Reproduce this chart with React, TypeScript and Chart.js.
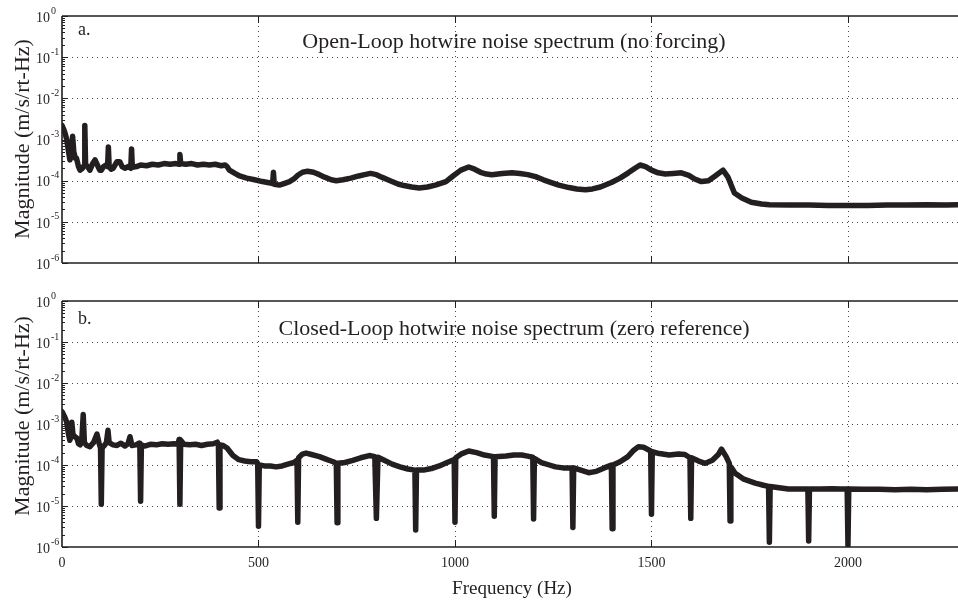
import React, { useEffect, useRef } from 'react';
import { Chart, registerables } from 'chart.js';

Chart.register(...registerables);

const FONT = '"Liberation Serif", "Times New Roman", Times, serif';
const INK = '#231f20';

const xTickValues = [0, 500, 1000, 1500, 2000];
const xTickLabels = ['0', '500', '1000', '1500', '2000'];
const yDecadeExponents = [0, -1, -2, -3, -4, -5, -6];
const yAxisTitle = 'Magnitude (m/s/rt-Hz)';
const xAxisTitle = 'Frequency (Hz)';
const panelLabels = ['a.', 'b.'];
const panelTitles = [
  'Open-Loop hotwire noise spectrum (no forcing)',
  'Closed-Loop hotwire noise spectrum (zero reference)',
];

// [frequency Hz, magnitude m/s/rt-Hz]
const openLoop: number[][] = [
  [0, 2.2e-3], [4, 1.8e-3], [8, 1.4e-3], [12, 1.0e-3], [16, 5.5e-4], [20, 3.2e-4],
  [24, 4.0e-4], [27, 1.2e-3], [30, 5.0e-4], [34, 3.5e-4], [37, 3.5e-4], [42, 2.2e-4],
  [46, 1.8e-4], [52, 2.0e-4], [56, 2.3e-4], [58, 2.2e-3], [60, 2.5e-4], [65, 2.2e-4],
  [71, 1.8e-4], [78, 2.6e-4], [84, 3.2e-4], [90, 2.4e-4], [96, 1.8e-4], [100, 1.8e-4],
  [106, 2.2e-4], [112, 2.4e-4], [116, 2.2e-4], [118, 6.6e-4], [120, 2.2e-4], [125, 1.9e-4],
  [130, 2.0e-4], [140, 2.9e-4], [147, 2.9e-4], [153, 2.2e-4], [160, 2.0e-4], [168, 2.2e-4],
  [175, 2.0e-4], [177, 5.9e-4], [179, 2.1e-4], [190, 2.2e-4], [200, 2.4e-4], [215, 2.3e-4],
  [230, 2.5e-4], [245, 2.4e-4], [260, 2.6e-4], [275, 2.5e-4], [290, 2.6e-4], [298, 2.5e-4],
  [300, 4.3e-4], [302, 2.6e-4], [315, 2.5e-4], [330, 2.6e-4], [345, 2.4e-4], [360, 2.5e-4],
  [375, 2.4e-4], [390, 2.5e-4], [405, 2.3e-4], [415, 2.4e-4], [420, 2.2e-4], [426, 1.8e-4],
  [440, 1.5e-4], [452, 1.3e-4], [470, 1.15e-4], [490, 1.05e-4], [510, 9.5e-5], [530, 8.8e-5],
  [536, 8.5e-5], [538, 1.6e-4], [540, 8.2e-5], [553, 7.8e-5], [565, 8.5e-5], [579, 9.5e-5],
  [590, 1.1e-4], [600, 1.35e-4], [612, 1.6e-4], [625, 1.7e-4], [640, 1.6e-4], [655, 1.4e-4],
  [670, 1.2e-4], [685, 1.05e-4], [698, 1.0e-4], [715, 1.05e-4], [735, 1.15e-4], [755, 1.3e-4],
  [770, 1.4e-4], [785, 1.5e-4], [800, 1.4e-4], [815, 1.2e-4], [835, 1.0e-4], [855, 8.3e-5],
  [870, 7.6e-5], [890, 7.0e-5], [909, 6.6e-5], [930, 7.0e-5], [950, 7.8e-5], [977, 9.5e-5],
  [995, 1.3e-4], [1015, 1.8e-4], [1035, 2.15e-4], [1050, 1.9e-4], [1065, 1.6e-4], [1080, 1.45e-4],
  [1094, 1.4e-4], [1120, 1.5e-4], [1145, 1.55e-4], [1165, 1.5e-4], [1185, 1.4e-4], [1205, 1.25e-4],
  [1225, 1.05e-4], [1245, 9.0e-5], [1264, 7.8e-5], [1290, 6.8e-5], [1310, 6.3e-5], [1332, 6.0e-5],
  [1350, 6.3e-5], [1370, 7.0e-5], [1398, 9.0e-5], [1420, 1.15e-4], [1441, 1.55e-4], [1458, 2.0e-4],
  [1471, 2.4e-4], [1485, 2.2e-4], [1500, 1.8e-4], [1517, 1.55e-4], [1535, 1.45e-4], [1555, 1.5e-4],
  [1576, 1.55e-4], [1595, 1.35e-4], [1610, 1.1e-4], [1627, 9.5e-5], [1645, 1.0e-4], [1662, 1.3e-4],
  [1682, 1.8e-4], [1695, 1.2e-4], [1711, 5.0e-5], [1730, 3.8e-5], [1754, 3.0e-5], [1780, 2.7e-5],
  [1800, 2.6e-5], [1850, 2.55e-5], [1900, 2.55e-5], [1950, 2.5e-5], [2000, 2.5e-5], [2050, 2.5e-5],
  [2100, 2.55e-5], [2150, 2.55e-5], [2200, 2.6e-5], [2250, 2.55e-5], [2280, 2.6e-5],
];

const closedLoop: number[][] = [
  [0, 2.0e-3], [4, 1.7e-3], [8, 1.4e-3], [12, 1.1e-3], [16, 6.0e-4], [20, 4.0e-4],
  [23, 5.0e-4], [25, 1.1e-3], [28, 5.5e-4], [33, 4.9e-4], [38, 4.5e-4], [42, 3.3e-4],
  [46, 3.1e-4], [50, 3.5e-4], [54, 1.7e-3], [57, 3.5e-4], [63, 3.0e-4], [71, 2.8e-4],
  [80, 3.5e-4], [89, 5.7e-4], [94, 3.5e-4], [98, 2.6e-4], [100, 1.1e-5], [102, 2.6e-4],
  [108, 3.0e-4], [113, 3.5e-4], [117, 7.0e-4], [120, 3.5e-4], [130, 3.1e-4], [140, 3.0e-4],
  [150, 3.4e-4], [160, 2.9e-4], [168, 3.3e-4], [173, 4.9e-4], [178, 3.0e-4], [188, 3.1e-4],
  [196, 3.4e-4], [198, 3.2e-4], [200, 1.3e-5], [202, 3.1e-4], [210, 2.9e-4], [225, 3.2e-4],
  [240, 3.1e-4], [255, 3.3e-4], [270, 3.2e-4], [285, 3.3e-4], [295, 3.2e-4], [298, 4.2e-4],
  [300, 1.1e-5], [302, 4.0e-4], [310, 3.2e-4], [325, 3.1e-4], [340, 3.2e-4], [355, 3.0e-4],
  [370, 3.2e-4], [385, 3.3e-4], [395, 3.6e-4], [398, 3.2e-4], [400, 9.0e-6], [402, 3.1e-4],
  [410, 3.0e-4], [420, 2.6e-4], [435, 1.7e-4], [450, 1.35e-4], [465, 1.25e-4], [480, 1.2e-4],
  [495, 1.2e-4], [498, 1.1e-4], [500, 3.2e-6], [502, 1.0e-4], [515, 9.5e-5], [530, 9.5e-5],
  [545, 9.0e-5], [560, 9.5e-5], [575, 1.05e-4], [590, 1.15e-4], [598, 1.3e-4], [600, 4.0e-6],
  [602, 1.5e-4], [612, 1.85e-4], [621, 1.95e-4], [635, 1.8e-4], [655, 1.6e-4], [675, 1.35e-4],
  [690, 1.2e-4], [698, 1.1e-4], [700, 3.9e-6], [702, 1.1e-4], [720, 1.15e-4], [740, 1.3e-4],
  [760, 1.5e-4], [782, 1.7e-4], [796, 1.6e-4], [800, 5.0e-6], [804, 1.55e-4], [820, 1.3e-4],
  [840, 1.05e-4], [860, 9.0e-5], [880, 8.0e-5], [898, 7.5e-5], [900, 2.6e-6], [902, 7.5e-5],
  [920, 7.5e-5], [940, 8.2e-5], [960, 9.5e-5], [980, 1.15e-4], [998, 1.35e-4], [1000, 4.0e-6],
  [1002, 1.5e-4], [1018, 1.9e-4], [1035, 2.2e-4], [1055, 2.0e-4], [1075, 1.75e-4], [1098, 1.6e-4],
  [1100, 5.6e-6], [1102, 1.6e-4], [1130, 1.65e-4], [1150, 1.75e-4], [1170, 1.75e-4], [1185, 1.65e-4],
  [1198, 1.55e-4], [1200, 4.8e-6], [1202, 1.45e-4], [1220, 1.15e-4], [1240, 1.0e-4], [1256, 9.0e-5],
  [1275, 8.5e-5], [1298, 8.5e-5], [1300, 3.0e-6], [1302, 8.5e-5], [1320, 7.5e-5], [1340, 6.5e-5],
  [1360, 7.0e-5], [1380, 8.5e-5], [1398, 1.0e-4], [1400, 2.8e-6], [1402, 1.0e-4], [1420, 1.2e-4],
  [1440, 1.6e-4], [1455, 2.3e-4], [1467, 2.8e-4], [1480, 2.7e-4], [1498, 2.2e-4], [1500, 6.3e-6],
  [1502, 2.1e-4], [1520, 1.9e-4], [1545, 1.75e-4], [1569, 1.85e-4], [1585, 1.8e-4], [1598, 1.5e-4],
  [1600, 5.0e-6], [1602, 1.5e-4], [1620, 1.25e-4], [1637, 1.1e-4], [1655, 1.3e-4], [1670, 1.8e-4],
  [1678, 2.45e-4], [1690, 1.6e-4], [1698, 1.1e-4], [1700, 4.3e-6], [1702, 9.0e-5], [1713, 6.3e-5],
  [1735, 4.5e-5], [1764, 3.6e-5], [1785, 3.2e-5], [1798, 3.0e-5], [1800, 1.3e-6], [1802, 3.0e-5],
  [1825, 2.8e-5], [1848, 2.6e-5], [1875, 2.6e-5], [1898, 2.6e-5], [1900, 1.4e-6], [1902, 2.6e-5],
  [1930, 2.6e-5], [1960, 2.65e-5], [1980, 2.6e-5], [1998, 2.6e-5], [2000, 1.1e-6], [2002, 2.6e-5],
  [2040, 2.55e-5], [2080, 2.55e-5], [2120, 2.5e-5], [2160, 2.55e-5], [2200, 2.5e-5], [2240, 2.55e-5],
  [2280, 2.6e-5],
];

const X_MAX = 2280;

const matlabAxes = {
  id: 'matlabAxes',
  beforeDatasetsDraw(chart: any) {
    const { ctx, chartArea: a } = chart;
    const x = chart.scales.x;
    const y = chart.scales.y;
    ctx.save();
    ctx.strokeStyle = '#4a4a4a';
    ctx.lineWidth = 1;
    ctx.setLineDash([1, 4]);
    ctx.beginPath();
    yDecadeExponents.forEach((e) => {
      if (e === 0 || e === -6) return;
      const py = Math.round(y.getPixelForValue(Math.pow(10, e))) + 0.5;
      ctx.moveTo(a.left, py);
      ctx.lineTo(a.right, py);
    });
    xTickValues.forEach((v) => {
      if (v === 0) return;
      const px = Math.round(x.getPixelForValue(v)) + 0.5;
      ctx.moveTo(px, a.top);
      ctx.lineTo(px, a.bottom);
    });
    ctx.stroke();
    ctx.restore();
  },
  afterDraw(chart: any, _args: any, o: any) {
    const { ctx, chartArea: a } = chart;
    const x = chart.scales.x;
    const y = chart.scales.y;
    ctx.save();
    ctx.setLineDash([]);
    ctx.strokeStyle = INK;
    ctx.lineWidth = 1.6;
    ctx.beginPath();
    ctx.moveTo(a.left, a.top);
    ctx.lineTo(a.right, a.top);
    ctx.moveTo(a.left, a.bottom);
    ctx.lineTo(a.right, a.bottom);
    ctx.moveTo(a.left, a.top);
    ctx.lineTo(a.left, a.bottom);
    ctx.stroke();

    ctx.lineWidth = 1;
    ctx.beginPath();
    yDecadeExponents.forEach((e) => {
      const py = Math.round(y.getPixelForValue(Math.pow(10, e))) + 0.5;
      ctx.moveTo(a.left, py);
      ctx.lineTo(a.left + 6, py);
      if (e < 0) {
        for (let m = 2; m <= 9; m++) {
          const pm = Math.round(y.getPixelForValue(m * Math.pow(10, e))) + 0.5;
          ctx.moveTo(a.left, pm);
          ctx.lineTo(a.left + 3, pm);
        }
      }
    });
    xTickValues.forEach((v) => {
      if (v === 0) return;
      const px = Math.round(x.getPixelForValue(v)) + 0.5;
      ctx.moveTo(px, a.top);
      ctx.lineTo(px, a.top + 7);
      ctx.moveTo(px, a.bottom);
      ctx.lineTo(px, a.bottom - 7);
    });
    ctx.stroke();

    ctx.fillStyle = INK;
    // y tick labels 10^e
    yDecadeExponents.forEach((e) => {
      const py = y.getPixelForValue(Math.pow(10, e));
      ctx.font = `14px ${FONT}`;
      ctx.textAlign = 'right';
      ctx.textBaseline = 'middle';
      ctx.fillText('10', a.left - 12, py + 2);
      ctx.font = `10px ${FONT}`;
      ctx.textAlign = 'left';
      ctx.fillText(String(e), a.left - 11, py - 5);
    });

    // x tick labels
    if (o.showX) {
      ctx.font = `14px ${FONT}`;
      ctx.textAlign = 'center';
      ctx.textBaseline = 'middle';
      xTickValues.forEach((v, i) => {
        ctx.fillText(xTickLabels[i], x.getPixelForValue(v), a.bottom + 16);
      });
      ctx.font = `19px ${FONT}`;
      ctx.textBaseline = 'alphabetic';
      ctx.fillText(xAxisTitle, 512, a.bottom + 47);
    }

    // panel label and title
    ctx.font = `18px ${FONT}`;
    ctx.textAlign = 'left';
    ctx.textBaseline = 'alphabetic';
    ctx.fillText(o.label, 78, a.top + o.labelDy);
    ctx.font = `22px ${FONT}`;
    ctx.textAlign = 'center';
    ctx.fillText(o.title, 514, a.top + o.titleDy);

    // y axis title
    ctx.save();
    ctx.translate(29, o.yTitleCenter);
    ctx.rotate(-Math.PI / 2);
    ctx.font = `22px ${FONT}`;
    ctx.textAlign = 'center';
    ctx.textBaseline = 'alphabetic';
    ctx.fillText(yAxisTitle, 0, 0);
    ctx.restore();

    ctx.restore();
  },
};

function makeChart(canvas: HTMLCanvasElement, series: number[][], padBottom: number, padTop: number, opts: any) {
  return new Chart(canvas, {
    type: 'line',
    data: {
      datasets: [
        {
          data: series.map((p) => ({ x: p[0], y: p[1] })),
          borderColor: INK,
          backgroundColor: INK,
          borderWidth: 5.5,
          pointRadius: 0,
          tension: 0,
          fill: false,
          borderJoinStyle: 'round',
          borderCapStyle: 'round',
        } as any,
      ],
    },
    options: {
      animation: false,
      responsive: false,
      maintainAspectRatio: false,
      events: [],
      layout: { padding: { left: 62, top: padTop, right: 0, bottom: padBottom } },
      scales: {
        x: { type: 'linear', min: 0, max: X_MAX, display: false },
        y: { type: 'logarithmic', min: 1e-6, max: 1, display: false },
      },
      plugins: {
        legend: { display: false },
        tooltip: { enabled: false },
        matlabAxes: opts,
      } as any,
    },
    plugins: [matlabAxes as any],
  });
}

export default function App() {
  const topRef = useRef<HTMLCanvasElement>(null);
  const botRef = useRef<HTMLCanvasElement>(null);

  useEffect(() => {
    const c1 = makeChart(topRef.current!, openLoop, 7, 16, {
      showX: false,
      label: panelLabels[0],
      title: panelTitles[0],
      labelDy: 19,
      titleDy: 32,
      yTitleCenter: 139,
    });
    const c2 = makeChart(botRef.current!, closedLoop, 54, 31, {
      showX: true,
      label: panelLabels[1],
      title: panelTitles[1],
      labelDy: 23,
      titleDy: 34,
      yTitleCenter: 146,
    });
    return () => {
      c1.destroy();
      c2.destroy();
    };
  }, []);

  return (
    <div style={{ position: 'absolute', left: 0, top: 0, width: 958, height: 601, background: '#fff', overflow: 'hidden' }}>
      <canvas ref={topRef} width={958} height={270} style={{ display: 'block', width: 958, height: 270 }} />
      <canvas ref={botRef} width={958} height={331} style={{ display: 'block', width: 958, height: 331 }} />
    </div>
  );
}
